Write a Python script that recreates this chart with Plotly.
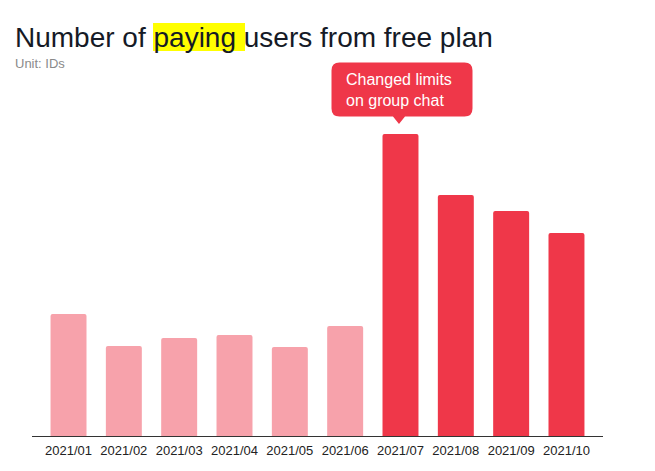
import plotly.graph_objects as go

months = ["2021/01", "2021/02", "2021/03", "2021/04", "2021/05",
          "2021/06", "2021/07", "2021/08", "2021/09", "2021/10"]
users = [122, 90, 98, 101, 89, 110, 302, 241, 225, 203]
highlight_from = "2021/07"

LIGHT = "#F7A2AB"
RED = "#EF3749"
colors = [RED if m >= highlight_from else LIGHT for m in months]

W, H = 655, 471
L, R, T, B = 32, 52, 100, 35
pw, ph = W - L - R, H - T - B

def px(x):
    return (x - L) / pw

def py(y):
    return (H - B - y) / ph

fig = go.Figure(go.Bar(x=months, y=users, marker=dict(color=colors, line=dict(width=0)),
                       width=0.65, hoverinfo="x+y"))

# callout bubble path (rounded rect with pointer)
x0, x1, y0, y1, r = 331.5, 472.5, 62.5, 116.5, 8
tx, ty, tw = 399, 124, 6
def P(x, y):
    return f"{px(x):.5f},{py(y):.5f}"
path = (f"M {P(x0 + r, y0)} L {P(x1 - r, y0)} Q {P(x1, y0)} {P(x1, y0 + r)} "
        f"L {P(x1, y1 - r)} Q {P(x1, y1)} {P(x1 - r, y1)} "
        f"L {P(tx + tw, y1)} L {P(tx, ty)} L {P(tx - tw, y1)} "
        f"L {P(x0 + r, y1)} Q {P(x0, y1)} {P(x0, y1 - r)} "
        f"L {P(x0, y0 + r)} Q {P(x0, y0)} {P(x0 + r, y0)} Z")

fig.update_layout(
    width=W, height=H,
    margin=dict(l=L, r=R, t=T, b=B, pad=0),
    paper_bgcolor="white", plot_bgcolor="white",
    font=dict(family="Liberation Sans, Arial, sans-serif", color="#222"),
    showlegend=False,
    barcornerradius=2,
    xaxis=dict(range=[-0.66, 9.66], showgrid=False, showline=True, linecolor="#333",
               linewidth=1, ticks="", tickfont=dict(size=13, color="#222"),
               ticklabelstandoff=2, fixedrange=True),
    yaxis=dict(range=[0, ph], visible=False, showgrid=False, zeroline=False, fixedrange=True),
    shapes=[
        dict(type="rect", xref="paper", yref="paper", x0=px(153), x1=px(245),
             y0=py(51), y1=py(23), fillcolor="#FFFF00", line=dict(width=0), layer="below"),
        dict(type="path", xref="paper", yref="paper", path=path, fillcolor=RED,
             line=dict(width=0)),
    ],
    annotations=[
        dict(text="Number of paying users from free plan", xref="paper", yref="paper",
             x=px(13), y=py(37), xanchor="left", yanchor="middle", showarrow=False,
             font=dict(size=28, color="#151a26")),
        dict(text="Unit: IDs", xref="paper", yref="paper",
             x=px(13), y=py(64), xanchor="left", yanchor="middle", showarrow=False,
             font=dict(size=13, color="#8a8a8a")),
        dict(text="Changed limits<br>on group chat", xref="paper", yref="paper",
             x=px(344), y=py(90), xanchor="left", yanchor="middle", align="left",
             showarrow=False, font=dict(size=16, color="white")),
    ],
)

fig.write_html("out.html")
